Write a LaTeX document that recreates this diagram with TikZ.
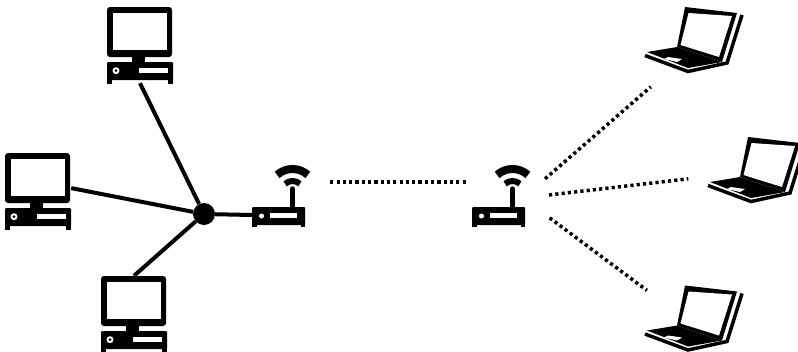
\documentclass[tikz,border=0pt]{standalone}
\usepackage{tikz}
\usetikzlibrary{positioning}

\begin{document}
\begin{tikzpicture}[
    x=1pt, y=1pt, yscale=-1,
    every pic/.style={yscale=-1},
    hostbox/.style={rectangle, inner sep=0pt, minimum width=66pt, minimum height=76pt},
    routerbox/.style={rectangle, inner sep=0pt, minimum width=53pt, minimum height=20pt},
    spot/.style={circle, inner sep=0pt, minimum size=0pt},
    hub/.style={circle, fill=black, inner sep=0pt, minimum size=22pt},
    wire/.style={line width=4pt, black},
    radio/.style={line width=3.5pt, black, dash pattern=on 3.2pt off 3.1pt},
    desktop/.pic={
        \fill[black, rounded corners=3pt] (-33,-38) rectangle (32,12);
        \fill[white] (-27,-32) rectangle (27,5);
        \fill[black] (-8,12) rectangle (5,17);
        \fill[black, rounded corners=1pt] (-33,17) rectangle (33,35);
        \fill[black] (-33,33) rectangle (-28,38.5);
        \fill[black] (28,33) rectangle (33,38.5);
        \fill[white] (-24,25.7) circle (3.5);
        \fill[black] (-24,25.7) circle (1.5);
        \fill[white] (-1,23) rectangle (28,28);
    },
    router/.pic={
        \draw[line width=8pt, black] (0,0) ++(-48:23) arc[start angle=-48, end angle=-132, radius=23];
        \draw[line width=6pt, black] (0,0) ++(-48:11) arc[start angle=-48, end angle=-132, radius=11];
        \draw[line width=5.5pt, black, line cap=round] (0,-3) -- (0,15);
        \fill[black, rounded corners=1pt] (-40.5,15) rectangle (12.5,33);
        \fill[black] (-40.5,32) rectangle (-36,35);
        \fill[black] (8,32) rectangle (12.5,35);
        \fill[white] (-31,24) circle (2.5);
        \fill[white] (-22.5,21) rectangle (4.5,26);
    },
    laptop/.pic={
        \fill[black] (-7,-33) -- (45,-27) -- (30,22) -- (-15,7) -- cycle;
        \fill[white] (-3.5,-27) -- (40,-24) -- (27,17) -- (-11.5,5) -- cycle;
        \fill[black] (-45,12) -- (-15,7) -- (30,22) -- (-4,28) -- cycle;
        \fill[white] (-24,17) -- (-10,19) -- (-15,22) -- (-28,19) -- cycle;
        \draw[line width=3.5pt, black] (-47,15.5) -- (-4,31.5) -- (35,23) -- (50,-25);
    }
]
\useasboundingbox (0,0) rectangle (798,351);

\pic at (140,45) {desktop};
\pic at (38,191) {desktop};
\pic at (134,314) {desktop};
\pic at (292.5,192) {router};
\pic at (512.5,192) {router};
\pic at (692,40) {laptop};
\pic at (755,170) {laptop};
\pic at (692,318.5) {laptop};

\node[hostbox] (pca) at (140,45) {};
\node[hostbox] (pcb) at (38,191) {};
\node[hostbox] (pcc) at (134,314) {};
\node[routerbox] (rta) at (278.5,215) {};
\node[hub] (join) at (204,214) {};
\node[spot] (aira) at (292.5,182) {};
\node[spot] (airb) at (512.5,182) {};
\node[spot] (fan) at (523,198) {};
\node[spot] (lpa) at (700,44) {};
\node[spot] (lpb) at (764,170) {};
\node[spot] (lpc) at (700,330) {};

\draw[wire] (pca.south) -- (join);
\draw[wire] (pcb.5) -- (join);
\draw[wire] (pcc.north) -- (join);
\draw[wire] (join) -- (rta.west);

\draw[radio, shorten <=37.5pt, shorten >=44.5pt] (aira) -- (airb);
\draw[radio, shorten <=29pt, shorten >=65pt] (fan) -- (lpa);
\draw[radio, shorten <=26pt, shorten >=76pt] (fan) -- (lpb);
\draw[radio, shorten <=33pt, shorten >=66pt] (fan) -- (lpc);

\end{tikzpicture}
\end{document}
